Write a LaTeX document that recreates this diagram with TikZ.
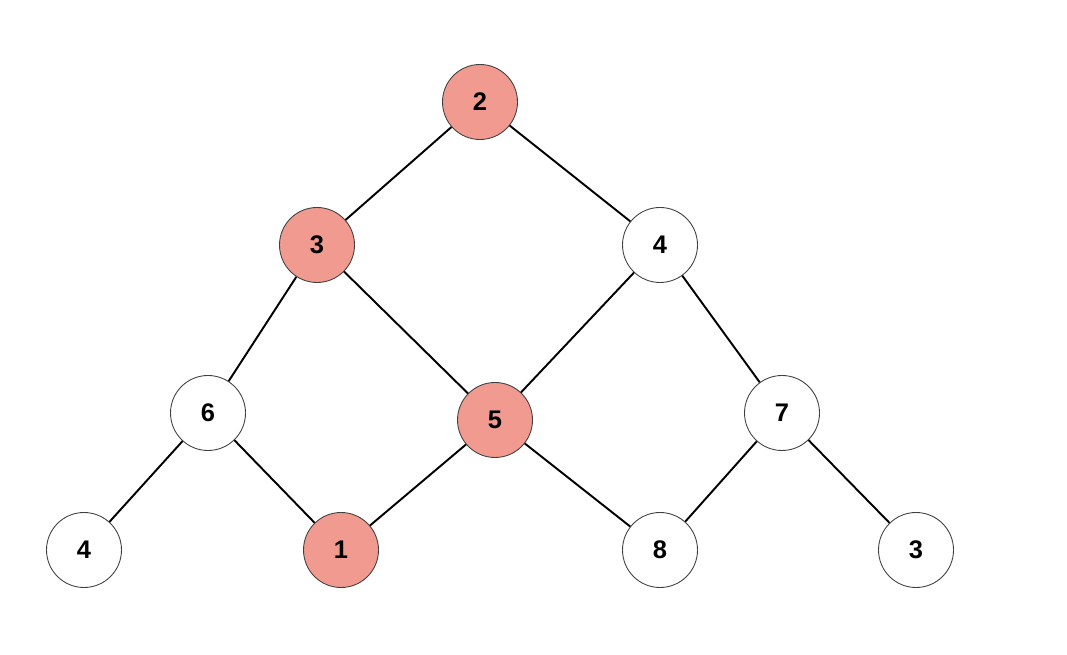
\documentclass[tikz,border=0pt]{standalone}
\usepackage{fontspec}
\setmainfont{Liberation Sans}
\usepackage{xcolor}
\usepackage{tikz}
\usetikzlibrary{positioning}
\definecolor{hitred}{RGB}{241,154,144}

\begin{document}
\begin{tikzpicture}[
    % ---- tree node ----
    vert/.style={
        circle,
        draw=black!75,
        line width=0.5pt,
        fill=white,
        minimum size=1.5cm,
        inner sep=0pt,
        font=\fontsize{14.5}{17}\selectfont\bfseries
    },
    % ---- nodes on the path ----
    path/.style={vert, fill=hitred},
    % ---- edges ----
    edge/.style={line width=1.1pt, black}
]
\useasboundingbox (0,0) rectangle (21.34,13.08);

% ---------- ROW 1 ----------
\node[path] (Top) at (9.6, 11.04) {2};

% ---------- ROW 2 ----------
\node[path] (LeftA) at (6.34, 8.18) {3};
\node[vert] (RightA) at (13.2, 8.18) {4};

% ---------- ROW 3 ----------
\node[vert] (LeftB) at (4.16, 4.82) {6};
\node[path] (MidB) at (9.9, 4.68) {5};
\node[vert] (RightB) at (15.64, 4.82) {7};

% ---------- ROW 4 ----------
\node[vert] (BotA) at (1.68, 2.08) {4};
\node[path] (BotB) at (6.82, 2.08) {1};
\node[vert] (BotC) at (13.2, 2.08) {8};
\node[vert] (BotD) at (18.32, 2.08) {3};

% ============================================================
%  EDGES
% ============================================================
\draw[edge] (Top) -- (LeftA);
\draw[edge] (Top) -- (RightA);
\draw[edge] (LeftA) -- (LeftB);
\draw[edge] (LeftA) -- (MidB);
\draw[edge] (RightA) -- (MidB);
\draw[edge] (RightA) -- (RightB);
\draw[edge] (LeftB) -- (BotA);
\draw[edge] (LeftB) -- (BotB);
\draw[edge] (MidB) -- (BotB);
\draw[edge] (MidB) -- (BotC);
\draw[edge] (RightB) -- (BotC);
\draw[edge] (RightB) -- (BotD);

\end{tikzpicture}
\end{document}
